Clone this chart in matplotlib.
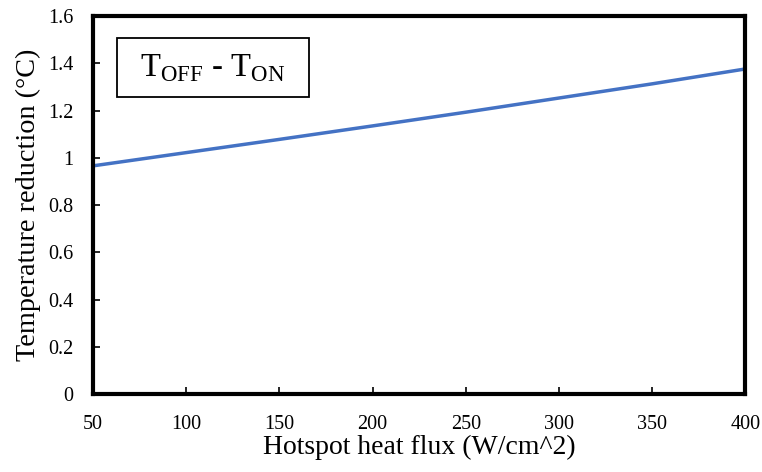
import matplotlib
matplotlib.use("Agg")
import matplotlib.pyplot as plt
from matplotlib.patches import Rectangle
from matplotlib.ticker import FuncFormatter

heat_flux = [50, 100, 150, 200, 250, 300, 350, 400]
temp_reduction = [0.966, 1.022, 1.078, 1.135, 1.193, 1.253, 1.313, 1.376]
x_ticks = [50, 100, 150, 200, 250, 300, 350, 400]
y_ticks = [0, 0.2, 0.4, 0.6, 0.8, 1.0, 1.2, 1.4, 1.6]

plt.rcParams['font.family'] = ['Liberation Serif', 'DejaVu Serif']
plt.rcParams['mathtext.fontset'] = 'custom'
plt.rcParams['mathtext.rm'] = 'Liberation Serif'

fig = plt.figure(figsize=(7.62, 4.72), dpi=100)
ax = fig.add_axes([0.122, 0.165, 0.856, 0.801])

ax.plot(heat_flux, temp_reduction, color='#4472C4', linewidth=2.5, solid_capstyle='butt')

ax.set_xlim(50, 400)
ax.set_ylim(0, 1.6)
ax.set_xticks(x_ticks)
ax.set_yticks(y_ticks)
ax.yaxis.set_major_formatter(FuncFormatter(lambda v, p: f"{v:g}"))
ax.tick_params(axis='both', direction='in', length=5, width=1.2, labelsize=14.5, colors='black')
ax.tick_params(axis='x', pad=15)
ax.tick_params(axis='y', pad=14)
for s in ax.spines.values():
    s.set_linewidth(3)
    s.set_color('black')

ax.set_xlabel('Hotspot heat flux (W/cm^2)', fontsize=20, labelpad=1)
ax.set_ylabel('Temperature reduction (°C)', fontsize=20.3, labelpad=5)

ax.add_patch(Rectangle((0.037, 0.786), 0.294, 0.156, transform=ax.transAxes,
                       fill=False, edgecolor='black', linewidth=1.3))
ax.text(0.184, 0.862, r'T$_{\mathrm{OFF}}$ - T$_{\mathrm{ON}}$', transform=ax.transAxes,
        ha='center', va='center', fontsize=23.5)

fig.savefig('out.png', dpi=100)
